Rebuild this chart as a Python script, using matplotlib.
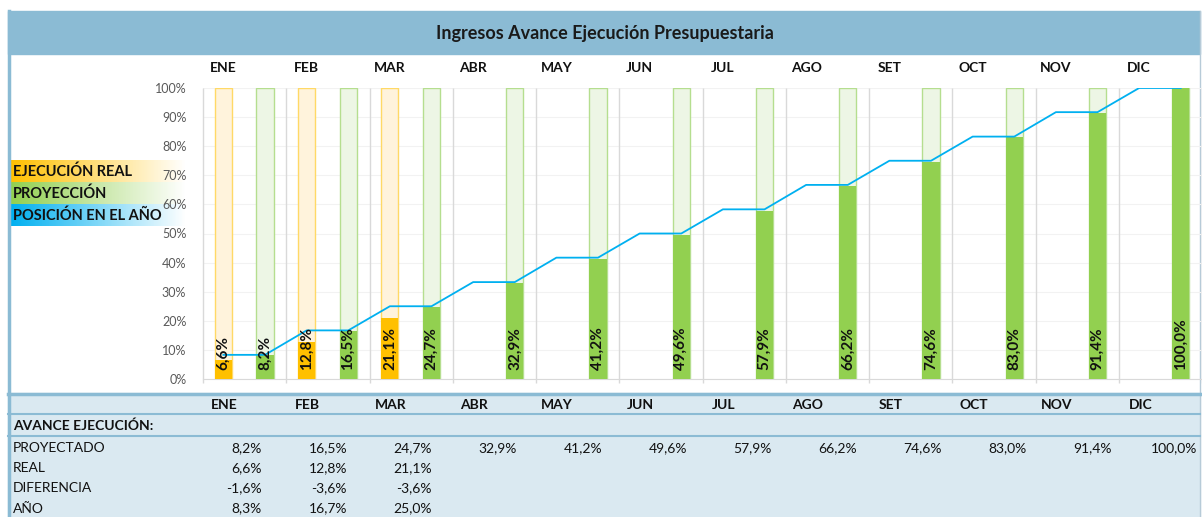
import numpy as np
import matplotlib.pyplot as plt
from matplotlib.patches import Rectangle
from matplotlib.colors import to_rgb

plt.rcParams['font.family'] = ['Lato', 'DejaVu Sans']

months = ['ENE', 'FEB', 'MAR', 'ABR', 'MAY', 'JUN', 'JUL', 'AGO', 'SET', 'OCT', 'NOV', 'DIC']
proyectado = [8.2, 16.5, 24.7, 32.9, 41.2, 49.6, 57.9, 66.2, 74.6, 83.0, 91.4, 100.0]
real = [6.6, 12.8, 21.1]
diferencia = [-1.6, -3.6, -3.6]
anio = [8.3, 16.7, 25.0, 33.3, 41.7, 50.0, 58.3, 66.7, 75.0, 83.3, 91.7, 100.0]
legend_items = ['EJECUCIÓN REAL', 'PROYECCIÓN', 'POSICIÓN EN EL AÑO']

W, H = 1202, 517
fig = plt.figure(figsize=(W / 100, H / 100), dpi=100)

def fx(px):
    return px / W

def fy(py):
    return 1 - py / H

def pct(v):
    return f'{v:.1f}%'.replace('.', ',')

band = '#8bbbd4'
table_bg = '#dae9f1'

# title band, table background and frame
fig.patches.append(Rectangle((fx(8), fy(54)), fx(1200) - fx(8), (54 - 11) / H,
                             transform=fig.transFigure, color=band, zorder=0))
fig.patches.append(Rectangle((fx(8), 0), fx(1200) - fx(8), fy(393),
                             transform=fig.transFigure, color=table_bg, zorder=0))
fig.add_artist(plt.Line2D([fx(9), fx(9)], [0, fy(11)], color=band, lw=2.5))
fig.add_artist(plt.Line2D([fx(1200), fx(1200)], [0, fy(11)], color='#b7cbd8', lw=1))
fig.add_artist(plt.Line2D([fx(8), fx(1200)], [fy(394), fy(394)], color=band, lw=2.5))
fig.add_artist(plt.Line2D([fx(8), fx(1200)], [fy(414), fy(414)], color=band, lw=1.5))
fig.add_artist(plt.Line2D([fx(8), fx(1200)], [fy(436), fy(436)], color=band, lw=1.5))

fig.text(fx(605), fy(33), 'Ingresos Avance Ejecución Presupuestaria', ha='center', va='center',
         fontsize=13, fontweight='bold', color='#1a1a1a')

# legend with gradient backgrounds (one band per row, fading to white)
lax = fig.add_axes([fx(11), fy(226), fx(186) - fx(11), (226 - 160) / H], zorder=1)
grad = np.zeros((3, 200, 3))
t = np.linspace(0, 1, 200)[:, None]
for i, c in enumerate(['#ffc000', '#92d050', '#00b0f0']):
    rgb = np.array(to_rgb(c))
    grad[i] = rgb * (1 - t) + np.ones(3) * t
grad = np.repeat(grad, 20, axis=0)
lax.imshow(grad, aspect='auto', extent=(0, 1, 3, 0), interpolation='nearest')
lax.set_xlim(0, 1)
lax.set_ylim(3, 0)
lax.axis('off')
for i, name in enumerate(legend_items):
    lax.text(0.012, i + 0.55, name, ha='left', va='center', fontsize=10.5, fontweight='bold', color='#111111')

# main chart
ax = fig.add_axes([fx(203), fy(379), fx(1202) - fx(203), (379 - 88) / H], zorder=2)
ax.patch.set_alpha(0)
x = np.arange(len(months))
x1 = x + 0.245
x2 = x + 0.745
bw = 0.205
n = len(real)

ax.set_xlim(0, 12)
ax.set_ylim(0, 1)
ax.set_yticks(np.linspace(0, 1, 11))
ax.set_yticklabels([f'{int(v)}%' for v in np.linspace(0, 100, 11)], fontsize=9, color='#595959')
ax.tick_params(axis='y', length=0, pad=12)
ax.set_xticks([])
for s in ['top', 'right', 'left']:
    ax.spines[s].set_visible(False)
ax.spines['bottom'].set_color('#d9d9d9')
ax.grid(axis='y', color='#f2f2f2', lw=0.8)
ax.set_axisbelow(True)
ax.vlines(np.arange(13), -0.013, 1.0, colors='#d9d9d9', lw=1, clip_on=False, zorder=1)

# background 100% bars
ax.bar(x1[:n], 1.0, bw, color='#fff3dc', edgecolor='#ffd966', lw=1, zorder=2)
ax.bar(x2, 1.0, bw, color='#edf6e5', edgecolor='#b5de8f', lw=1, zorder=2)
# value bars
ax.bar(x1[:n], np.array(real) / 100, bw, color='#ffc000', zorder=3)
ax.bar(x2, np.array(proyectado) / 100, bw, color='#92d050', zorder=3)

# position in the year line
lx = np.ravel(np.column_stack([x1, x2]))
ly = np.repeat(np.array(anio) / 100, 2)
ax.plot(lx, ly, color='#00b0f0', lw=1.3, zorder=4)

for i, v in enumerate(real):
    ax.text(x1[i], 0.03, pct(v), rotation=90, ha='center', va='bottom', fontsize=11,
            fontweight='bold', color='#111111', zorder=5)
for i, v in enumerate(proyectado):
    ax.text(x2[i], 0.03, pct(v), rotation=90, ha='center', va='bottom', fontsize=11,
            fontweight='bold', color='#111111', zorder=5)

for i, m in enumerate(months):
    ax.text(x1[i], 1.069, m, ha='center', va='center', fontsize=10, fontweight='bold',
            color='#111111', clip_on=False)

# table below the chart
for i, m in enumerate(months):
    fig.text(fx(224 + 83.3 * i), fy(405), m, ha='center', va='center', fontsize=10,
             fontweight='bold', color='#111111')
fig.text(fx(13), fy(426), 'AVANCE EJECUCIÓN:', ha='left', va='center', fontsize=10,
         fontweight='bold', color='#111111')
rows = [('PROYECTADO', proyectado), ('REAL', real), ('DIFERENCIA', diferencia), ('AÑO', anio[:n])]
for r, (label, vals) in enumerate(rows):
    yy = fy(448 + 20.2 * r)
    fig.text(fx(13), yy, label, ha='left', va='center', fontsize=10, color='#111111')
    for i, v in enumerate(vals):
        fig.text(fx(262 + 85 * i), yy, pct(v), ha='right', va='center', fontsize=10, color='#111111')

fig.savefig('out.png', dpi=100)
